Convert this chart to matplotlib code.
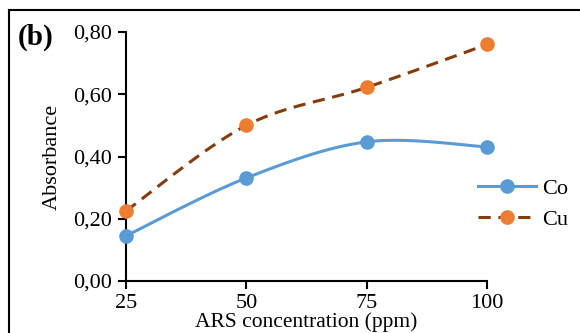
import matplotlib.pyplot as plt
from matplotlib.lines import Line2D
from matplotlib.ticker import FuncFormatter
import numpy as np

concentration = [25, 50, 75, 100]
co_absorbance = [0.145, 0.331, 0.447, 0.431]
cu_absorbance = [0.225, 0.500, 0.622, 0.760]
y_ticks = [0.0, 0.2, 0.4, 0.6, 0.8]
x_ticks = [25, 50, 75, 100]

CO_COLOR = '#5B9BD5'
CU_LINE = '#843C0C'
CU_MARK = '#ED7D31'
DASH = (0, (4, 2.5))


def smooth(xs, ys, n=40):
    # Excel-like smoothed line: cubic bezier through the points
    xs = np.asarray(xs, float)
    ys = np.asarray(ys, float)
    px = np.concatenate([[xs[0]], xs, [xs[-1]]])
    py = np.concatenate([[ys[0]], ys, [ys[-1]]])
    out_x, out_y = [], []
    t = np.linspace(0, 1, n)
    for i in range(1, len(xs)):
        p0 = np.array([px[i], py[i]])
        p3 = np.array([px[i + 1], py[i + 1]])
        c1 = p0 + (p3 - np.array([px[i - 1], py[i - 1]])) / 6
        c2 = p3 - (np.array([px[i + 2], py[i + 2]]) - p0) / 6
        b = ((1 - t) ** 3)[:, None] * p0 + (3 * (1 - t) ** 2 * t)[:, None] * c1 \
            + (3 * (1 - t) * t ** 2)[:, None] * c2 + (t ** 3)[:, None] * p3
        out_x.extend(b[:, 0])
        out_y.extend(b[:, 1])
    return out_x, out_y


plt.rcParams['font.family'] = ['Liberation Serif', 'DejaVu Serif']

fig = plt.figure(figsize=(5.8, 3.33), dpi=100)
ax = fig.add_axes([126 / 580, 1 - 281 / 333, 361 / 580, 249 / 333])

sx, sy = smooth(concentration, co_absorbance)
ax.plot(sx, sy, color=CO_COLOR, lw=2.2, clip_on=False)
ax.plot(concentration, co_absorbance, 'o', color=CO_COLOR, ms=9.5, clip_on=False, zorder=3)

sx, sy = smooth(concentration, cu_absorbance)
ax.plot(sx, sy, color=CU_LINE, lw=2.2, ls=DASH, clip_on=False)
ax.plot(concentration, cu_absorbance, 'o', color=CU_MARK, ms=9.5, clip_on=False, zorder=3)

ax.set_xlim(25, 100)
ax.set_ylim(0, 0.8)
ax.set_xticks(x_ticks)
ax.set_yticks(y_ticks)
ax.yaxis.set_major_formatter(FuncFormatter(lambda v, p: f'{v:.2f}'.replace('.', ',')))
for s in ['top', 'right']:
    ax.spines[s].set_visible(False)
for s in ['left', 'bottom']:
    ax.spines[s].set_linewidth(1.5)
ax.tick_params(direction='out', length=6, width=1.5, labelsize=16)
ax.tick_params(axis='y', pad=4)
ax.tick_params(axis='x', pad=3)
ax.set_xlabel('ARS concentration (ppm)', fontsize=15.5)
ax.xaxis.set_label_coords(0.5, (281 - 312) / 249)
ax.set_ylabel('Absorbance', fontsize=16, labelpad=8)

handles = [
    Line2D([], [], color=CO_COLOR, lw=2.2, marker='o', ms=9.5),
    Line2D([], [], color=CU_LINE, lw=2.2, ls=DASH, marker='o',
           ms=9.5, markerfacecolor=CU_MARK, markeredgecolor=CU_MARK),
]
fig.legend(handles, ['Co', 'Cu'], loc='center left', bbox_to_anchor=(458 / 580, 1 - 204 / 333),
           frameon=False, fontsize=16, handlelength=2.6, labelspacing=0.45, handletextpad=0.3)

fig.text(18 / 580, 1 - 45 / 333, '(b)', fontsize=21, fontweight='bold')

# figure border (left and top)
fig.add_artist(Line2D([9 / 580, 9 / 580], [0, 1 - 10 / 333], color='black', lw=1.5))
fig.add_artist(Line2D([9 / 580, 1], [1 - 10 / 333, 1 - 10 / 333], color='black', lw=1.5))

fig.savefig('out.png', dpi=100)
